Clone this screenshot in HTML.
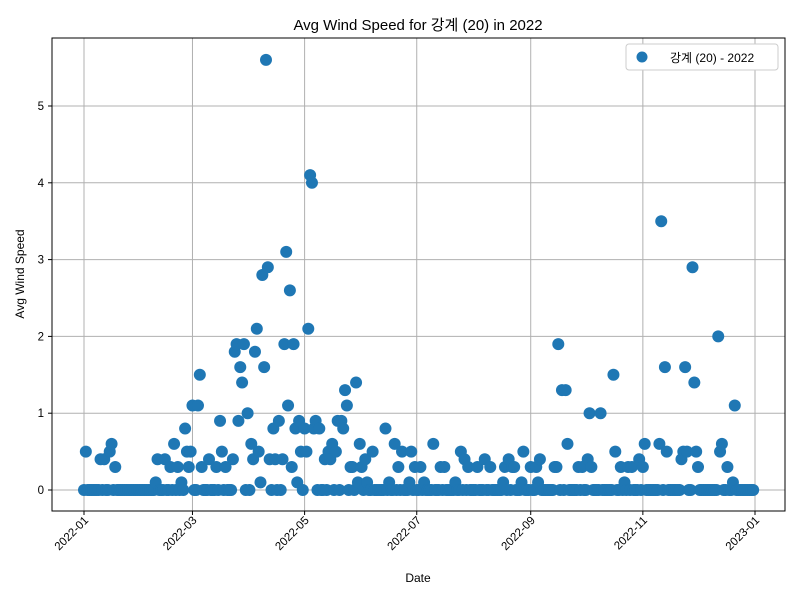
<!DOCTYPE html>
<html><head><meta charset="utf-8">
<style>
html,body{margin:0;padding:0;background:#fff;}
svg text{font-family:"Liberation Sans","Noto Sans CJK KR",sans-serif;fill:#000;}
</style></head>
<body>
<svg id="chart" width="800" height="600" xmlns="http://www.w3.org/2000/svg">
<rect x="0" y="0" width="800" height="600" fill="#fff"/>
<text x="418" y="30" font-size="15" text-anchor="middle">Avg Wind Speed for 강계 (20) in 2022</text>
<g id="grid"></g>
<g id="points"></g>
<rect x="52" y="38" width="733" height="473" fill="none" stroke="#000" stroke-width="1"/>
<g id="axes"></g>
<text x="418" y="582" font-size="12" text-anchor="middle">Date</text>
<text x="0" y="0" font-size="12" text-anchor="middle" transform="translate(24,274) rotate(-90)">Avg Wind Speed</text>
<g>
<rect x="626" y="44" width="152" height="26" fill="#fff" stroke="#ccc" rx="3"/>
<circle cx="642" cy="57" r="5.5" fill="#1f77b4"/>
<text x="670" y="62" font-size="12">강계 (20) - 2022</text>
</g>
</svg>
<script>
const startDate = "2022-01-01";
const values = [
0,.5,0,0,0,0,0,0,0,.4,
0,.4,0,0,.5,.6,0,.3,0,0,
0,0,0,0,0,0,0,0,0,0,
0,0,0,0,0,0,0,0,0,.1,
.4,0,0,0,.4,0,0,.3,0,.6,
0,.3,0,.1,0,.8,.5,.3,.5,1.1,
0,0,1.1,1.5,.3,0,0,0,.4,0,
0,0,.3,0,.9,.5,0,.3,0,0,
0,.4,1.8,1.9,.9,1.6,1.4,1.9,0,1.0,
0,.6,.4,1.8,2.1,.5,.1,2.8,1.6,5.6,
2.9,.4,0,.8,.4,0,.9,0,.4,1.9,
3.1,1.1,2.6,.3,1.9,.8,.1,.9,.5,0,
.8,.5,2.1,4.1,4.0,.8,.9,0,.8,0,
0,.4,0,.5,.4,.6,0,.5,.9,0,
.9,.8,1.3,1.1,0,.3,.3,0,1.4,.1,
.6,.3,0,.4,.1,0,0,.5,0,0,
0,0,0,0,.8,0,.1,0,0,.6,
0,.3,0,.5,0,0,0,.1,.5,0,
.3,0,0,.3,0,.1,0,0,0,0,
.6,0,0,0,.3,0,.3,0,0,0,
0,0,.1,0,0,.5,0,.4,0,.3,
0,0,0,0,.3,0,0,0,.4,0,
0,.3,0,0,0,0,0,0,.1,.3,
0,.4,0,.3,.3,0,0,0,.1,.5,
0,0,0,.3,0,0,.3,.1,.4,0,
0,0,0,0,0,0,.3,.3,1.9,0,
1.3,0,1.3,.6,0,0,0,0,0,.3,
0,.3,0,0,.4,1.0,.3,0,0,0,
0,1.0,0,0,0,0,0,0,1.5,.5,
0,0,.3,0,.1,0,.3,0,.3,0,
0,0,.4,0,.3,.6,0,0,0,0,
0,0,0,.6,3.5,0,1.6,.5,0,0,
0,0,0,0,0,.4,.5,1.6,.5,0,
0,2.9,1.4,.5,.3,0,0,0,0,0,
0,0,0,0,0,2.0,.5,.6,0,0,
.3,0,0,.1,1.1,0,0,0,0,0,
0,0,0,0,0
];
const xTickLabels = ["2022-01","2022-03","2022-05","2022-07","2022-09","2022-11","2023-01"];
const yTicks = [0,1,2,3,4,5];

const NS="http://www.w3.org/2000/svg";
const t0 = Date.UTC(2022,0,1), t1 = Date.UTC(2023,0,1);
const X0=84, X1=755, Y0=490, YPU=76.8;
function xScale(t){return X0+(t-t0)/(t1-t0)*(X1-X0);}
function yScale(v){return Y0-v*YPU;}
function mk(tag,attrs,parent){const e=document.createElementNS(NS,tag);for(const k in attrs)e.setAttribute(k,attrs[k]);parent.appendChild(e);return e;}
const grid=document.getElementById('grid'), axes=document.getElementById('axes'), pts=document.getElementById('points');
xTickLabels.forEach(lbl=>{
  const p=lbl.split('-');const x=xScale(Date.UTC(+p[0],+p[1]-1,1));
  const gl=mk('line',{x1:x,x2:x,y1:38,y2:511,stroke:'#b0b0b0','stroke-width':1},grid);
  
  
  mk('line',{x1:x,x2:x,y1:511,y2:515,stroke:'#000'},axes);
  const t=mk('text',{x:0,y:0,'font-size':11.5,'text-anchor':'end',transform:`translate(${x+5},${521}) rotate(-45)`},axes);
  t.textContent=lbl;
  
  
});
yTicks.forEach(v=>{
  const y=yScale(v);
  const gl=mk('line',{x1:52,x2:785,y1:y,y2:y,stroke:'#b0b0b0','stroke-width':1},grid);
  
  
  mk('line',{x1:48,x2:52,y1:y,y2:y,stroke:'#000'},axes);
  const t=mk('text',{x:44,y:y+4,'font-size':11.5,'text-anchor':'end'},axes);
  t.textContent=String(v);
  
  
});
values.forEach((v,i)=>{
  const c=mk('circle',{cx:xScale(t0+i*86400000),cy:yScale(v),r:6,fill:'#1f77b4'},pts);
  
  
});
</script>
</body></html>
